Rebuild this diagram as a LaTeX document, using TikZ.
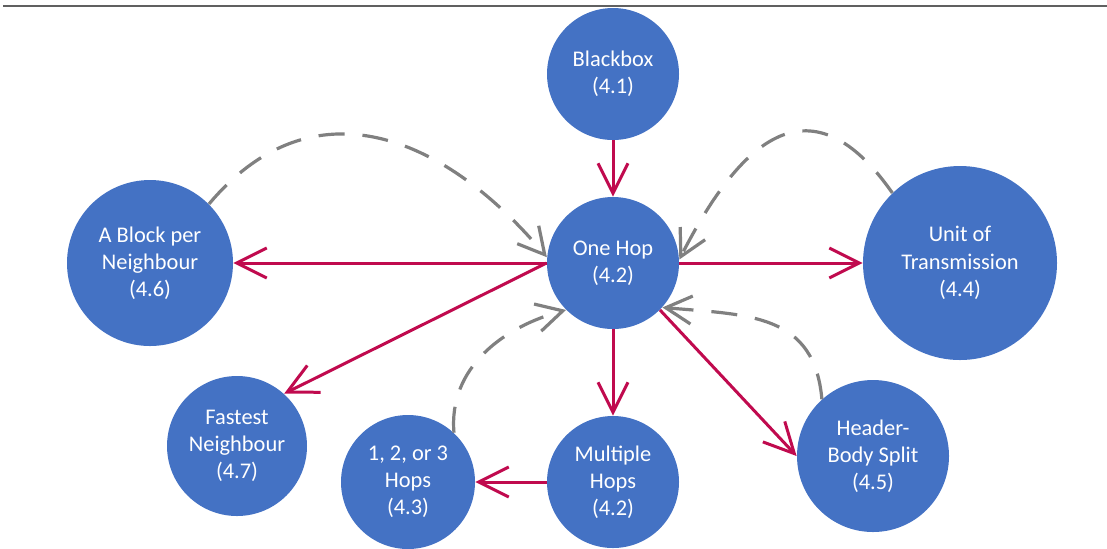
\documentclass[tikz,border=0pt]{standalone}
\usepackage{fontspec}
\setmainfont{Carlito}
\usetikzlibrary{arrows.meta}
\definecolor{nodeblue}{RGB}{68,114,196}
\definecolor{flowred}{RGB}{192,10,78}
\definecolor{backgray}{RGB}{128,128,128}

\begin{document}
\begin{tikzpicture}[x=0.5pt,y=0.5pt,
  bubble/.style={circle,fill=nodeblue,text=white,inner sep=0pt,align=center,
    font=\fontsize{11.2}{13.6}\selectfont},
  flow/.style={draw=flowred,line width=1.5pt,-{Straight Barb[length=15pt,width=15pt]}},
  back/.style={draw=backgray,line width=1.6pt,dash pattern=on 13pt off 9pt,
    -{Straight Barb[length=13pt,width=14pt]}}]
  \useasboundingbox (0,0) rectangle (1107,-548);
  % rule at the top
  \draw[line width=1pt,gray!75!black] (3,-6) -- (1107,-6);
  % nodes
  \node[bubble,minimum size=66pt] (bbox) at (613,-74) {Blackbox\\(4.1)};
  \node[bubble,minimum size=66pt] (hop) at (613,-263) {One Hop\\(4.2)};
  \node[bubble,minimum size=83pt] (block) at (150,-263) {A Block per\\Neighbour\\(4.6)};
  \node[bubble,minimum size=97pt] (unit) at (960,-263) {Unit of\\Transmission\\(4.4)};
  \node[bubble,minimum size=70pt] (fast) at (237,-446) {Fastest\\Neighbour\\(4.7)};
  \node[bubble,minimum size=67pt] (hops3) at (408,-482) {1, 2, or 3\\Hops\\(4.3)};
  \node[bubble,minimum size=66pt] (multi) at (613,-482) {Multiple\\Hops\\(4.2)};
  \node[bubble,minimum size=76pt] (head) at (873,-456) {Header-\\Body Split\\(4.5)};
  % refinements (solid)
  \draw[flow] (bbox) -- (hop);
  \draw[flow] (hop) -- (block);
  \draw[flow] (hop) -- (unit);
  \draw[flow] (hop.west) -- (fast.48);
  \draw[flow] (hop) -- (multi);
  \draw[flow] (multi) -- (hops3);
  \draw[flow] (hop.-45) -- (head.west);
  % back references (dashed)
  \draw[back] (block.45) to[out=50,in=130,looseness=1.2] (hop.175);
  \draw[back] (unit.134) to[out=125,in=63,looseness=1.6] (hop.3);
  \draw[back] (head.132) to[out=95,in=-5,looseness=1.2] (hop.-42);
  \draw[back] (hops3.47) to[out=95,in=195] (hop.225);
\end{tikzpicture}
\end{document}
